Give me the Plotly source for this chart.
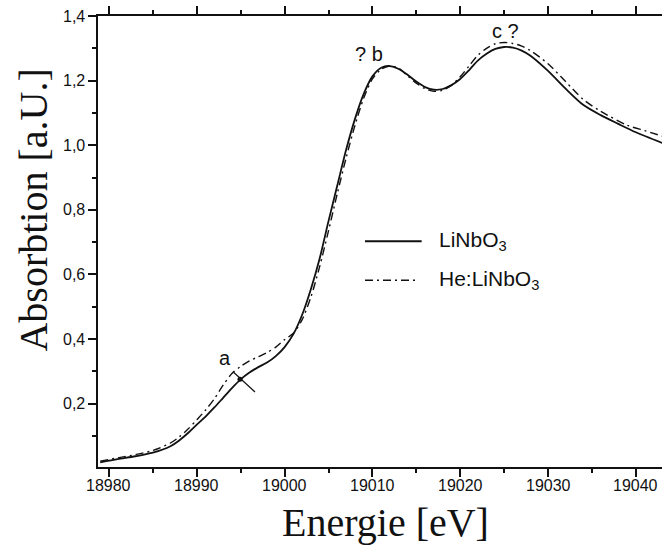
import plotly.graph_objects as go

# Nb K-edge XANES spectra (energy in eV, absorption in arbitrary units)
energy_pure = [18979, 18981, 18983, 18985, 18987, 18988, 18989, 18990, 18991, 18992,
               18993, 18994, 18995, 18996, 18997, 18998, 18999, 19000, 19001, 19002,
               19003, 19004, 19005, 19006, 19007, 19008, 19009, 19010, 19011, 19012,
               19013, 19014, 19015, 19016, 19017, 19018, 19019, 19020, 19021, 19022,
               19023, 19024, 19025, 19026, 19027, 19028, 19030, 19032, 19034, 19036,
               19038, 19040, 19043]
absorb_pure = [0.018, 0.028, 0.037, 0.048, 0.068, 0.086, 0.109, 0.135, 0.160, 0.188,
               0.218, 0.248, 0.275, 0.296, 0.313, 0.327, 0.347, 0.375, 0.415, 0.475,
               0.555, 0.650, 0.765, 0.875, 0.985, 1.080, 1.158, 1.213, 1.240, 1.245,
               1.236, 1.218, 1.197, 1.180, 1.172, 1.174, 1.186, 1.205, 1.232, 1.262,
               1.283, 1.298, 1.304, 1.302, 1.293, 1.277, 1.230, 1.175, 1.125, 1.093,
               1.066, 1.040, 1.007]

energy_he = [18979, 18981, 18983, 18985, 18987, 18988, 18989, 18990, 18991, 18992,
             18993, 18994, 18995, 18996, 18997, 18998, 18999, 19000, 19001, 19002,
             19003, 19004, 19005, 19006, 19007, 19008, 19009, 19010, 19011, 19012,
             19013, 19014, 19015, 19016, 19017, 19018, 19019, 19020, 19021, 19022,
             19023, 19024, 19025, 19026, 19027, 19028, 19030, 19032, 19034, 19036,
             19039, 19041, 19043]
absorb_he = [0.022, 0.032, 0.042, 0.055, 0.078, 0.097, 0.121, 0.150, 0.180, 0.215,
             0.257, 0.293, 0.315, 0.332, 0.345, 0.358, 0.375, 0.398, 0.418, 0.460,
             0.530, 0.625, 0.735, 0.850, 0.960, 1.060, 1.145, 1.205, 1.235, 1.245,
             1.238, 1.215, 1.192, 1.175, 1.167, 1.170, 1.185, 1.212, 1.245, 1.278,
             1.300, 1.314, 1.318, 1.315, 1.307, 1.293, 1.252, 1.197, 1.142, 1.105,
             1.062, 1.045, 1.028]

x_ticks = [18980, 18990, 19000, 19010, 19020, 19030, 19040]
x_tick_labels = ["18980", "18990", "19000", "19010", "19020", "19030", "19040"]
y_ticks = [0.2, 0.4, 0.6, 0.8, 1.0, 1.2, 1.4]
y_tick_labels = ["0,2", "0,4", "0,6", "0,8", "1,0", "1,2", "1,4"]

series_names = ["LiNbO<sub>3</sub>", "He:LiNbO<sub>3</sub>"]

# feature labels: (text, energy, absorption)
features = [("a", 18993.2, 0.340), ("? b", 19009.6, 1.281), ("c ?", 19025.1, 1.353)]
# pointer for the pre-edge shoulder "a"
feature_a_dot = (18994.92, 0.275)
feature_a_line = ((18994.16, 0.298), (18996.63, 0.236))

SANS = "Liberation Sans, Arial, sans-serif"
SERIF = "Liberation Serif, Times New Roman, serif"
INK = "#111111"
DASHDOT = "8px,4px,2px,4px"
TICK_FONT = dict(family=SANS, size=16, color=INK)

fig = go.Figure()
fig.add_trace(go.Scatter(x=energy_pure, y=absorb_pure, mode="lines", name="LiNbO3",
                         line=dict(color=INK, width=1.8, shape="spline", smoothing=0.8),
                         showlegend=False))
fig.add_trace(go.Scatter(x=energy_he, y=absorb_he, mode="lines", name="He:LiNbO3",
                         line=dict(color=INK, width=1.4, shape="spline", smoothing=0.8,
                                   dash=DASHDOT),
                         showlegend=False))
fig.add_trace(go.Scatter(x=[feature_a_dot[0]], y=[feature_a_dot[1]], mode="markers",
                         marker=dict(color=INK, size=5), showlegend=False,
                         hoverinfo="skip"))

fig.add_shape(type="line", xref="x", yref="y",
              x0=feature_a_line[0][0], y0=feature_a_line[0][1],
              x1=feature_a_line[1][0], y1=feature_a_line[1][1],
              line=dict(color=INK, width=1.2))

for text, ex, ey in features:
    fig.add_annotation(x=ex, y=ey, xref="x", yref="y", text=text, showarrow=False,
                       font=dict(family=SANS, size=20, color=INK))

# tick labels placed just beyond the tick marks
for val, lab in zip(x_ticks, x_tick_labels):
    fig.add_annotation(x=val, y=0, xref="x", yref="paper", text=lab, showarrow=False,
                       xanchor="center", yanchor="top", yshift=-8, font=TICK_FONT)
for val, lab in zip(y_ticks, y_tick_labels):
    fig.add_annotation(x=0, y=val, xref="paper", yref="y", text=lab, showarrow=False,
                       xanchor="right", yanchor="middle", xshift=-11, font=TICK_FONT)

# hand-drawn legend
legend_rows = [(0.5005, "solid"), (0.414, DASHDOT)]
for (ly, dash), label in zip(legend_rows, series_names):
    fig.add_shape(type="line", xref="paper", yref="paper",
                  x0=0.4734, x1=0.5739 if dash == "solid" else 0.568, y0=ly, y1=ly,
                  line=dict(color=INK, width=1.8 if dash == "solid" else 1.4, dash=dash))
    fig.add_annotation(x=0.6005, y=ly, xref="paper", yref="paper", text=label,
                       showarrow=False, xanchor="left", yanchor="middle",
                       font=dict(family=SANS, size=21, color=INK))

# axis titles
fig.add_annotation(x=-0.115, y=0.569, xref="paper", yref="paper",
                   text="Absorbtion [a.U.]", textangle=-90, showarrow=False,
                   xanchor="center", yanchor="middle",
                   font=dict(family=SERIF, size=40, color=INK))
fig.add_annotation(x=0.51, y=-0.1226, xref="paper", yref="paper",
                   text="Energie [eV]", showarrow=False,
                   xanchor="center", yanchor="middle",
                   font=dict(family=SERIF, size=40, color=INK))

fig.update_xaxes(range=[18978.75, 19042.98], showgrid=False, zeroline=False,
                 showline=True, linecolor=INK, linewidth=1.5, mirror="ticks",
                 ticks="outside", ticklen=8, tickwidth=1.5, tickcolor=INK,
                 tickvals=x_ticks, showticklabels=False,
                 minor=dict(dtick=5, tick0=18980, ticks="outside", ticklen=4,
                            tickwidth=1.5, tickcolor=INK, showgrid=False))
fig.update_yaxes(range=[0.0037, 1.4], showgrid=False, zeroline=False,
                 showline=True, linecolor=INK, linewidth=1.5, mirror=False,
                 ticks="outside", ticklen=8, tickwidth=1.5, tickcolor=INK,
                 tickvals=y_ticks, showticklabels=False,
                 minor=dict(dtick=0.1, tick0=0, ticks="outside", ticklen=4,
                            tickwidth=1.5, tickcolor=INK, showgrid=False))

fig.update_layout(width=662, height=551, margin=dict(l=98, r=0, t=16, b=84),
                  paper_bgcolor="white", plot_bgcolor="white", showlegend=False)

fig.write_html("out.html")
